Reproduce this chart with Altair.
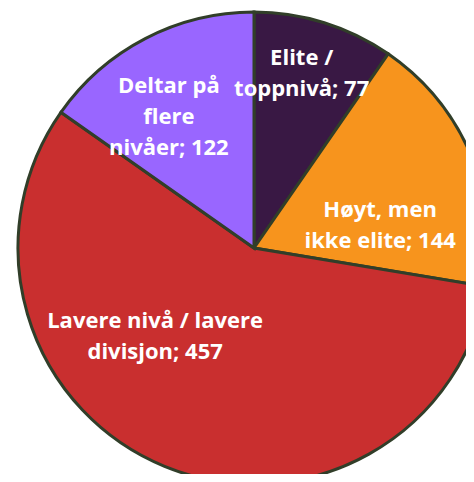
import altair as alt
import pandas as pd

categories = ["Elite / toppnivå", "Høyt, men ikke elite", "Lavere nivå / lavere divisjon", "Deltar på flere nivåer"]
values = [77, 144, 457, 122]
label_lines = ["Elite /\ntoppnivå; 77", "Høyt, men\nikke elite; 144", "Lavere nivå / lavere\ndivisjon; 457", "Deltar på\nflere\nnivåer; 122"]
colors = ["#391844", "#f7941d", "#c92f2f", "#9966ff"]
order = [0, 1, 2, 3]

total = sum(values)
df = pd.DataFrame({"kategori": categories, "antall": values, "etikett": label_lines, "rekkefolge": order})

CX, CY = 246, 240
R = 236
theta_scale = alt.Scale(domain=[0, total])

base = alt.Chart(df).transform_stack(
    stack="antall", as_=["s0", "s1"], groupby=[], sort=[alt.SortField("rekkefolge")]
).transform_calculate(mid="(datum.s0 + datum.s1) / 2")

pie = base.mark_arc(radius=R, stroke="#313e29", strokeWidth=3).encode(
    theta=alt.Theta("s0:Q", scale=theta_scale),
    theta2="s1:Q",
    x=alt.value(CX), y=alt.value(CY),
    color=alt.Color("kategori:N", scale=alt.Scale(domain=categories, range=colors), legend=None),
)

offsets = {
    "Elite / toppnivå": (3, -47),
    "Høyt, men ikke elite": (-12, 20),
    "Lavere nivå / lavere divisjon": (-42, -66),
    "Deltar på flere nivåer": (-16, -29),
}

layers = [pie]
for cat in categories:
    dx, dy = offsets[cat]
    layers.append(
        base.transform_filter(alt.datum.kategori == cat).mark_text(
            radius=150, dx=dx, dy=dy, fontSize=22, font="Open Sans", fontWeight="bold",
            color="white", lineBreak="\n", lineHeight=31, align="center", baseline="middle",
        ).encode(
            theta=alt.Theta("mid:Q", scale=theta_scale),
            text="etikett:N",
            x=alt.value(CX), y=alt.value(CY),
        )
    )

chart = alt.layer(*layers).properties(
    width=458, height=466,
    autosize=alt.AutoSizeParams(type="none"),
    padding=0,
    background="white",
).configure_view(stroke=None)

chart.save("out.html", embed_options={"renderer": "svg", "actions": False})
